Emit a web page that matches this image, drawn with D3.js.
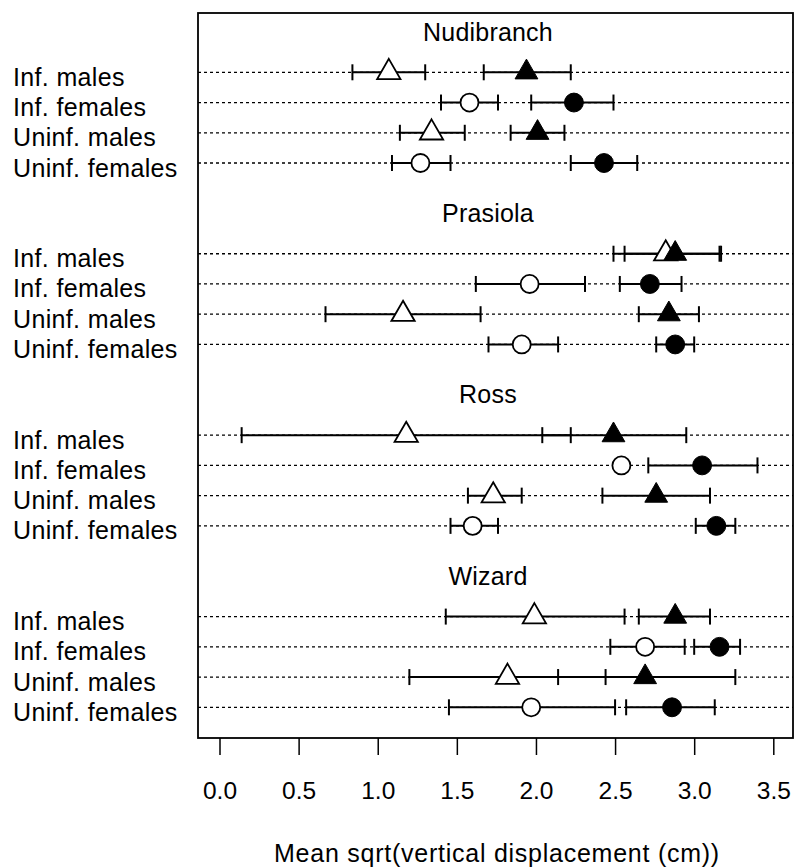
<!DOCTYPE html>
<html>
<head>
<meta charset="utf-8">
<script src="https://cdn.jsdelivr.net/npm/d3@7"></script>
<style>
  html, body { margin: 0; padding: 0; background: #fff; }
  svg { display: block; }
  text { font-family: "Liberation Sans", Arial, Helvetica, sans-serif; fill: #000; }
</style>
</head>
<body>
<svg id="chart" width="794" height="867"></svg>
<script>
// Sites (panels) and the four groups within each
const sites = ["Nudibranch", "Prasiola", "Ross", "Wizard"];
const groupLabels = ["Inf. males", "Inf. females", "Uninf. males", "Uninf. females"];
const groupShapes = ["triangle", "circle", "triangle", "circle"];

// Open symbols: mean and 95% interval, ordered site by site, group by group
const openMean = [1.07, 1.58, 1.34, 1.27,  2.82, 1.96, 1.16, 1.91,  1.18, 2.54, 1.73, 1.60,  1.99, 2.69, 1.82, 1.97];
const openLow  = [0.84, 1.40, 1.14, 1.09,  2.49, 1.62, 0.67, 1.70,  0.14, 2.54, 1.57, 1.46,  1.43, 2.47, 1.20, 1.45];
const openHigh = [1.30, 1.76, 1.55, 1.46,  3.16, 2.31, 1.65, 2.14,  2.22, 2.54, 1.91, 1.76,  2.56, 2.94, 2.44, 2.50];

// Filled symbols: mean and 95% interval
const fillMean = [1.94, 2.24, 2.01, 2.43,  2.88, 2.72, 2.84, 2.88,  2.49, 3.05, 2.76, 3.14,  2.88, 3.16, 2.69, 2.86];
const fillLow  = [1.67, 1.97, 1.84, 2.22,  2.56, 2.53, 2.65, 2.76,  2.04, 2.71, 2.42, 3.01,  2.65, 3.00, 2.14, 2.57];
const fillHigh = [2.22, 2.49, 2.18, 2.64,  3.17, 2.92, 3.03, 3.00,  2.95, 3.40, 3.10, 3.26,  3.10, 3.29, 3.26, 3.13];

const xTicks = [0, 0.5, 1, 1.5, 2, 2.5, 3, 3.5];
const xTitle = "Mean sqrt(vertical displacement (cm))";

const svg = d3.select("#chart");
const box = { left: 198, right: 793, top: 13, bottom: 738 };

const x = d3.scaleLinear().domain([0, 3.5]).range([219.5, 773.3]);
// each site takes 6 row slots: 4 groups plus header and spacing
const y = d3.scaleLinear().domain([0, 21]).range([72.3, 707.3]);

const rows = [];
sites.forEach((s, si) => {
  groupLabels.forEach((g, gi) => {
    const i = si * 4 + gi;
    rows.push({
      site: s, label: g, shape: groupShapes[gi], pos: si * 6 + gi,
      open: { m: openMean[i], lo: openLow[i], hi: openHigh[i] },
      fill: { m: fillMean[i], lo: fillLow[i], hi: fillHigh[i] }
    });
  });
});

// dotted guide lines
svg.append("g").selectAll("line").data(rows).join("line")
  .attr("x1", box.left).attr("x2", box.right)
  .attr("y1", d => y(d.pos)).attr("y2", d => y(d.pos))
  .attr("stroke", "#000").attr("stroke-width", 1.3)
  .attr("stroke-dasharray", "3,3");

// row labels
svg.append("g").selectAll("text").data(rows).join("text")
  .attr("x", 13).attr("y", d => y(d.pos) + 13.5)
  .attr("font-size", 25).attr("letter-spacing", 0.35)
  .text(d => d.label);

// site headers
svg.append("g").selectAll("text").data(sites).join("text")
  .attr("x", 488).attr("y", (d, i) => y(i * 6 - 1) - 1.5)
  .attr("text-anchor", "middle").attr("font-size", 25).attr("letter-spacing", 0.2)
  .text(d => d);

// error bars with end caps
function drawBars(key) {
  const g = svg.append("g").attr("stroke", "#000").attr("stroke-width", 2).attr("fill", "none");
  const data = rows.filter(d => d[key].hi > d[key].lo);
  g.selectAll("line.bar").data(data).join("line").attr("class", "bar")
    .attr("x1", d => x(d[key].lo)).attr("x2", d => x(d[key].hi))
    .attr("y1", d => y(d.pos)).attr("y2", d => y(d.pos));
  g.selectAll("line.lo").data(data).join("line").attr("class", "lo")
    .attr("x1", d => x(d[key].lo)).attr("x2", d => x(d[key].lo))
    .attr("y1", d => y(d.pos) - 8).attr("y2", d => y(d.pos) + 8);
  g.selectAll("line.hi").data(data).join("line").attr("class", "hi")
    .attr("x1", d => x(d[key].hi)).attr("x2", d => x(d[key].hi))
    .attr("y1", d => y(d.pos) - 8).attr("y2", d => y(d.pos) + 8);
}
drawBars("open");
drawBars("fill");

// point symbols
const symOpen = { triangle: d3.symbol(d3.symbolTriangle, 235), circle: d3.symbol(d3.symbolCircle, 255) };
const symFill = { triangle: d3.symbol(d3.symbolTriangle, 225), circle: d3.symbol(d3.symbolCircle, 280) };

svg.append("g").selectAll("path").data(rows).join("path")
  .attr("transform", d => `translate(${x(d.open.m)},${y(d.pos)})`)
  .attr("d", d => symOpen[d.shape]())
  .attr("fill", "#fff").attr("stroke", "#000").attr("stroke-width", 1.8);

svg.append("g").selectAll("path").data(rows).join("path")
  .attr("transform", d => `translate(${x(d.fill.m)},${y(d.pos)})`)
  .attr("d", d => symFill[d.shape]())
  .attr("fill", "#000").attr("stroke", "#000").attr("stroke-width", 1);

// plot frame
svg.append("rect")
  .attr("x", box.left).attr("y", box.top)
  .attr("width", box.right - box.left).attr("height", box.bottom - box.top)
  .attr("fill", "none").attr("stroke", "#000").attr("stroke-width", 1.8);

// x axis
const axis = svg.append("g").attr("transform", `translate(0,${box.bottom})`)
  .call(d3.axisBottom(x).tickValues(xTicks).tickFormat(d3.format(".1f"))
    .tickSize(17).tickSizeOuter(0).tickPadding(27));
axis.select(".domain").remove();
axis.selectAll(".tick line").attr("stroke", "#000").attr("stroke-width", 1.5);
axis.selectAll(".tick text")
  .attr("font-size", 24.5).attr("font-family", "Liberation Sans, Arial, sans-serif")
  .attr("fill", "#000");

svg.append("text")
  .attr("x", 497).attr("y", 862)
  .attr("text-anchor", "middle").attr("font-size", 25).attr("letter-spacing", 0.75)
  .text(xTitle);
</script>
</body>
</html>
